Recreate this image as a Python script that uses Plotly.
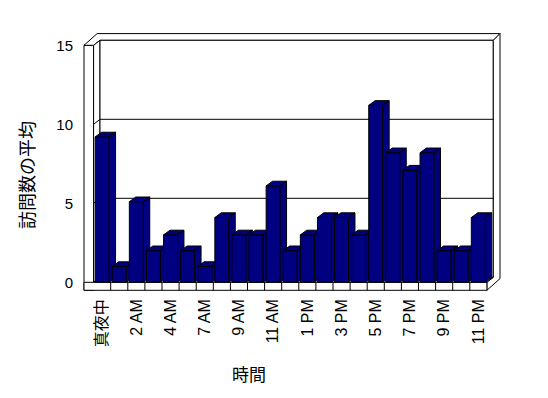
import plotly.graph_objects as go

# ---------------- data ----------------
categories = ["真夜中", "1 AM", "2 AM", "3 AM", "4 AM", "5 AM", "7 AM", "8 AM",
              "9 AM", "10 AM", "11 AM", "12 PM", "1 PM", "2 PM", "3 PM", "4 PM",
              "5 PM", "6 PM", "7 PM", "8 PM", "9 PM", "10 PM", "11 PM"]
values = [9.2, 1, 5.1, 2, 3, 2, 1, 4.1, 3, 3, 6.1, 2, 3, 4.1, 4.1, 3,
          11.2, 8.2, 7.1, 8.2, 2, 2, 4.1]
y_ticks = [0, 5, 10, 15]
x_title = "時間"
y_title = "訪問数の平均"

# ---------------- geometry (pixel scale of the front plane) ----------------
W, H = 548, 398
OFF = 8                                      # page body margin
PL, PR, PT, PB = 82, 503, 32, 293            # plot area in window px
CAT = 17.1                                   # px per category
VAL = 15.8                                   # px per value unit
FX0 = 93.6                                   # px of category edge -0.5
FY0 = 282.3                                  # px of value 0 (front)
N = len(values)

def X(px):
    return -0.5 + (px - FX0) / CAT

def Y(py):
    return (FY0 - py) / VAL

xr = [X(PL), X(PR)]
yr = [Y(PB), Y(PT)]

# depth offsets (in data units)
ddx = 6.4 / CAT
ddy = 5.0 / VAL
tdx = 6.7 / CAT
tdy = 6.7 / VAL
bar_dy = 4.7 / VAL
wall = 9.6 / CAT
floor = 8.0 / VAL
ymax = 15

xl = -0.5
xrt = N - 0.5
xi = xrt + ddx
xo = xi + tdx

def path(pts, close=True):
    s = "M " + " L ".join(f"{a},{b}" for a, b in pts)
    return s + (" Z" if close else "")

line = dict(color="black", width=1)
shapes = []
def add(pts, fill="white", close=True):
    shapes.append(dict(type="path", xref="x", yref="y", layer="below",
                       path=path(pts, close), fillcolor=fill if close else None,
                       line=line))

# left wall front face
add([(xl - wall, -floor), (xl - wall, ymax), (xl, ymax), (xl, -floor)])
# top faces (left wall + back wall)
add([(xl - wall, ymax), (xl - wall + ddx + tdx, ymax + ddy + tdy),
     (xo, ymax + ddy + tdy), (xi, ymax + ddy), (xl + ddx, ymax + ddy), (xl, ymax)])
# left wall inner face
add([(xl, 0), (xl, ymax), (xl + ddx, ymax + ddy), (xl + ddx, ddy)])
# back wall
add([(xl + ddx, ddy), (xl + ddx, ymax + ddy), (xi, ymax + ddy), (xi, ddy)])
# right faces
add([(xrt, 0), (xrt, -floor), (xo, -floor + ddy + tdy), (xo, ymax + ddy + tdy),
     (xi, ymax + ddy), (xi, ddy)])
# floor top
add([(xl, 0), (xrt, 0), (xi, ddy), (xl + ddx, ddy)])
# floor front
add([(xl - wall, -floor), (xl - wall, 0), (xrt, 0), (xrt, -floor)])
# gridlines
for v in y_ticks[1:-1]:
    shapes.append(dict(type="path", xref="x", yref="y", layer="below",
                       path=path([(xl, v), (xl + ddx, v + ddy), (xi, v + ddy)], False),
                       line=line))
# category dividers on floor front
for k in range(1, N):
    shapes.append(dict(type="line", xref="x", yref="y", layer="below",
                       x0=k - 0.5, x1=k - 0.5, y0=0, y1=-floor, line=line))

# ---------------- bars ----------------
NAVY = "#000080"
hw = 0.41
traces = []
for i, v in enumerate(values):
    a, b = i - hw, i + hw
    fx = [a, a, b, b, a]
    fy = [0, v, v, 0, 0]
    traces.append(go.Scatter(x=fx, y=fy, mode="lines", fill="toself",
                             fillcolor=NAVY, line=line, hoverinfo="skip"))
    tx = [a, b, b + ddx, a + ddx, a, None, b, b + ddx, b + ddx, b, b]
    ty = [v, v, v + bar_dy, v + bar_dy, v, None, v, v + bar_dy, bar_dy, 0, v]
    traces.append(go.Scatter(x=tx, y=ty, mode="lines", fill="toself",
                             fillcolor=NAVY, line=line, hoverinfo="skip"))

fig = go.Figure(traces)

FONT = "Liberation Sans, Noto Sans CJK JP, sans-serif"
tickvals = list(range(0, N, 2))
fig.update_layout(
    width=W, height=H,
    margin=dict(l=PL - OFF, r=W - PR + OFF, t=PT - OFF, b=H - PB + OFF, pad=0),
    paper_bgcolor="white", plot_bgcolor="white",
    showlegend=False,
    shapes=shapes,
    font=dict(family=FONT, color="black", size=13),
    xaxis=dict(range=xr, showgrid=False, zeroline=False, showline=False,
               tickmode="array", tickvals=tickvals,
               ticktext=[categories[i] for i in tickvals],
               tickangle=-90, ticks="", tickfont=dict(size=16),
               ticklabelstandoff=2),
    yaxis=dict(range=yr, showgrid=False, zeroline=False, showline=False,
               tickmode="array", tickvals=y_ticks, ticks="",
               tickfont=dict(size=15), ticklabelstandoff=8),
    annotations=[
        dict(text=x_title, xref="paper", yref="paper",
             x=(248.5 - PL) / (PR - PL), y=(PB - 375.5) / (PB - PT),
             showarrow=False, font=dict(size=17, family=FONT),
             xanchor="center", yanchor="middle"),
        dict(text=y_title, xref="paper", yref="paper",
             x=(28 - PL) / (PR - PL), y=(PB - 175) / (PB - PT),
             showarrow=False, font=dict(size=18, family=FONT), textangle=-90,
             xanchor="center", yanchor="middle"),
    ],
)

fig.write_html("out.html")
